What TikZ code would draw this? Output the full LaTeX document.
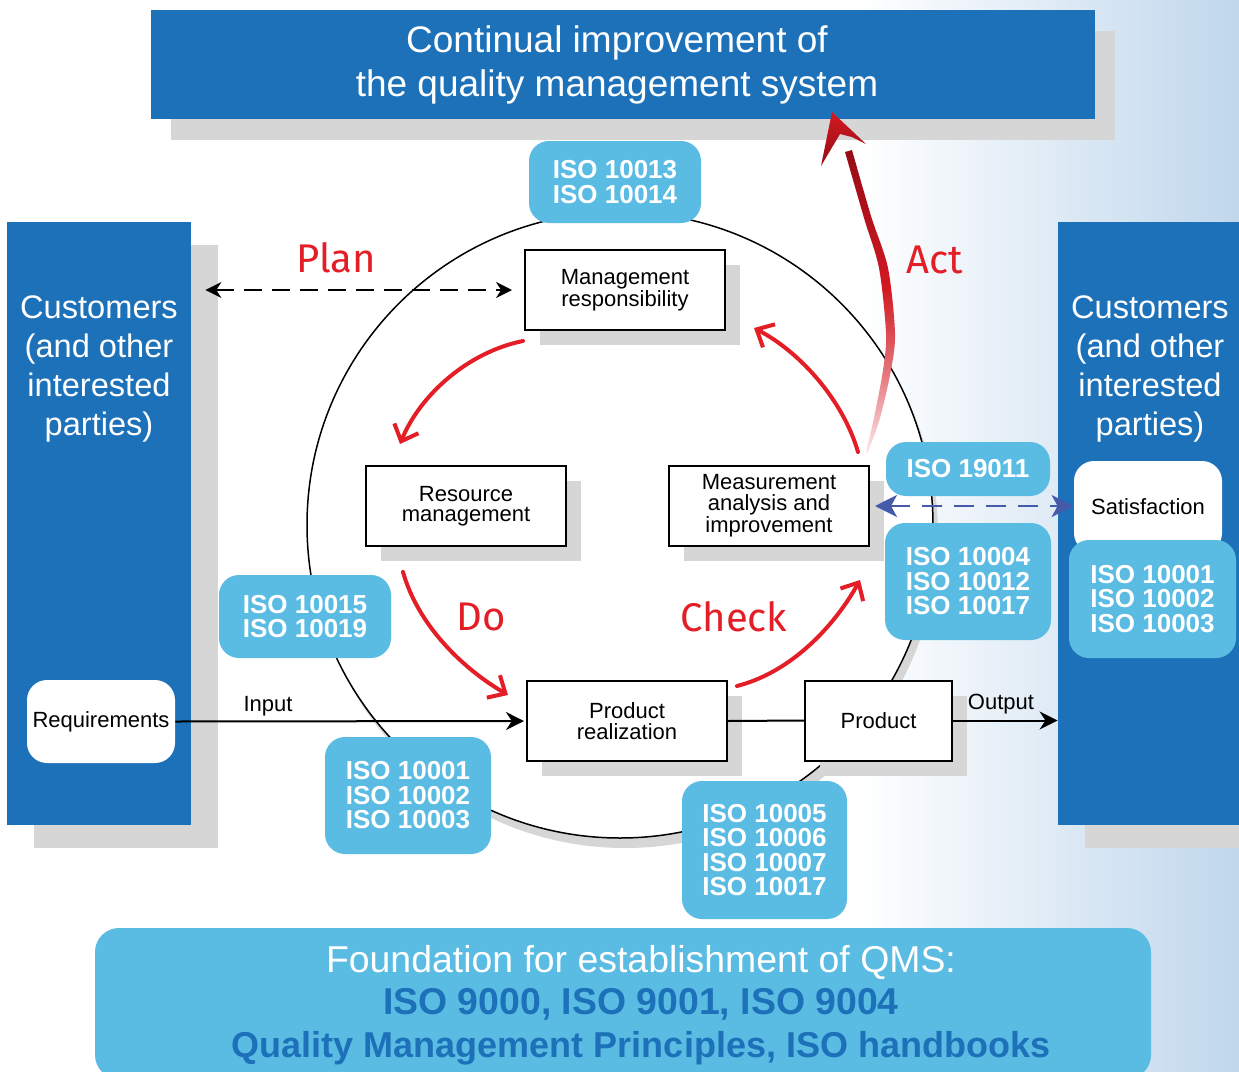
\documentclass[tikz,border=0pt]{standalone}
\usepackage{fontspec}
\setmainfont{Liberation Sans}
\newfontfamily\handfont{Fira Sans}
\usetikzlibrary{arrows.meta,shadows,calc}
\definecolor{dblue}{RGB}{28,113,185}
\definecolor{lblue}{RGB}{90,187,227}
\definecolor{pdred}{RGB}{228,30,38}
\definecolor{actdark}{RGB}{150,12,22}
\definecolor{actmid}{RGB}{210,25,35}
\definecolor{actpale}{RGB}{252,232,234}
\definecolor{dashblue}{RGB}{70,90,170}
\definecolor{shgray}{RGB}{214,214,214}
\definecolor{bgblue}{RGB}{192,215,236}
\pgfdeclareverticalshading{actshade}{100bp}{color(0bp)=(actpale); color(25bp)=(actpale); color(38bp)=(actmid!55!actpale); color(52bp)=(actmid); color(75bp)=(actdark); color(100bp)=(actdark)}
\tikzset{
  banner/.style={fill=dblue,inner sep=0pt,
    drop shadow={shadow xshift=10pt,shadow yshift=-10.5pt,fill=shgray,opacity=1}},
  bannertext/.style={text=white,align=center,inner sep=0pt,font=\fontsize{18.5}{22}\selectfont},
  panel/.style={fill=dblue,minimum height=301.5pt,inner sep=0pt,
    drop shadow={shadow xshift=13.5pt,shadow yshift=-11.5pt,fill=shgray,opacity=1}},
  paneltext/.style={text=white,align=center,font=\fontsize{16.3}{19.5}\selectfont,inner sep=0pt},
  proc/.style={draw=black,line width=1pt,fill=white,minimum width=100pt,minimum height=40pt,align=center,
    inner sep=0pt,font=\fontsize{11}{10.25}\selectfont,
    drop shadow={shadow xshift=7.5pt,shadow yshift=-7.5pt,fill=shgray,opacity=1}},
  iso/.style={fill=lblue,text=white,rounded corners=10pt,align=center,inner sep=0pt,
    font=\bfseries\fontsize{13}{12.25}\selectfont},
  whitebox/.style={fill=white,rounded corners=10pt,align=center,inner sep=0pt,font=\fontsize{11}{13}\selectfont},
  lbl/.style={font=\fontsize{11}{13}\selectfont,inner sep=0pt},
  pdca/.style={text=pdred,font=\handfont\fontsize{20}{24}\selectfont,inner sep=0pt},
  redarrow/.style={draw=pdred,line width=2pt,line cap=round,-{Straight Barb[length=7pt,width=13pt]}},
  blk/.style={line width=1pt},
}
\begin{document}
\begin{tikzpicture}[x=0.5pt,y=-0.5pt]
\useasboundingbox (0,0) rectangle (1239,1072);
\fill[white] (0,0) rectangle (1239,1072);
\shade[left color=white,right color=bgblue] (860,0) rectangle (1239,1072);

% banner
\node[banner,minimum width=472pt,minimum height=54.5pt] (title) at (623,64.5) {};
\node[bannertext] (titletext) at (617,65) {Continual improvement of\\the quality management system};

% side panels
\node[panel,minimum width=92pt] (panL) at (99,523.5) {};
\node[panel,minimum width=93.5pt] (panR) at (1151.5,523.5) {};
\node[paneltext] (custL) at (99,369) {Customers\\(and other\\interested\\parties)};
\node[paneltext] (custR) at (1150,369) {Customers\\(and other\\interested\\parties)};

% cycle circle
\node[circle,draw=black,line width=0.75pt,fill=white,minimum size=313pt,inner sep=0pt,
  drop shadow={shadow xshift=2.5pt,shadow yshift=-5pt,fill=shgray,opacity=1}] (cyc) at (620,525) {};

% process boxes
\node[proc] (mgmt) at (625,290) {Management\\responsibility};
\node[proc] (res) at (466,506) {Resource\\management};
\node[proc] (meas) at (769,506) {Measurement\\analysis and\\improvement};
\node[proc] (prod) at (627,721) {Product\\realization};
\node[proc,minimum width=73.5pt] (product) at (878.5,720.5) {Product};

% white boxes
\node[whitebox,minimum width=74pt,minimum height=41.5pt] (req) at (101,721.5) {Requirements};
\node[whitebox,minimum width=74pt,minimum height=46pt] (satis) at (1148,507) {Satisfaction};

% connectors
\draw[blk,dash pattern=on 9pt off 5pt,{Stealth[length=8pt,width=8pt]}-{Stealth[length=8pt,width=8pt]},
  shorten <=7pt,shorten >=6pt] (panL.east |- mgmt.west) -- (mgmt.west);
\draw[blk,-{Stealth[length=9pt,width=9pt]},shorten >=1pt] (req.east) -- (prod.west);
\draw[blk] (prod.east) -- (product.west);
\draw[blk,-{Stealth[length=9pt,width=9pt]}] (product.east) -- (product.east -| panR.west);
\draw[dashblue,line width=1.3pt,dash pattern=on 10pt off 6pt,
  {Stealth[length=11pt,width=11pt,inset=3pt]}-{Stealth[length=11pt,width=11pt,inset=3pt]},shorten <=2.5pt]
  (meas.east) -- (meas.east -| satis.west);
\node[lbl] (inlbl) at (268,706) {Input};
\node[lbl] (outlbl) at (1001,704) {Output};

% ISO boxes
\node[iso,minimum width=86pt,minimum height=41pt] (iso1) at (615,182) {ISO 10013\\ISO 10014};
\node[iso,minimum width=86pt,minimum height=41.5pt] (iso2) at (305,616.5) {ISO 10015\\ISO 10019};
\node[iso,minimum width=83pt,minimum height=58.5pt] (iso3) at (408,795.5) {ISO 10001\\ISO 10002\\ISO 10003};
\node[iso,minimum width=82.5pt,minimum height=69pt] (iso4) at (764.5,850) {ISO 10005\\ISO 10006\\ISO 10007\\ISO 10017};
\node[iso,minimum width=82pt,minimum height=27pt] (iso5) at (968,469) {ISO 19011};
\node[iso,minimum width=83pt,minimum height=58.5pt] (iso6) at (968,581.5) {ISO 10004\\ISO 10012\\ISO 10017};
\node[iso,minimum width=83.5pt,minimum height=59pt] (iso7) at (1152.5,599) {ISO 10001\\ISO 10002\\ISO 10003};

% PDCA red arrows
\coordinate (planS) at (523,341); \coordinate (planE) at (400,444);
\draw[redarrow] (planS) .. controls (468,352) and (420,395) .. (planE);
\coordinate (doS) at (403,572); \coordinate (doE) at (508,695);
\draw[redarrow] (doS) .. controls (418,625) and (462,668) .. (doE);
\coordinate (chkS) at (737,686); \coordinate (chkE) at (860,580);
\draw[redarrow] (chkS) .. controls (792,672) and (835,625) .. (chkE);
\coordinate (mmS) at (858,452); \coordinate (mmE) at (754,328);
\draw[redarrow] (mmS) .. controls (843,400) and (800,352) .. (mmE);

% Act arrow
\shade[shading=actshade]
  plot[smooth] coordinates {(845,152) (864,218) (879,268) (886,333) (883,370) (874,418) (866,452)}
  -- plot[smooth] coordinates {(868,452) (880,418) (891,370) (895,333) (888,268) (871,216) (852,150)}
  -- cycle;
\shade[top color=actmid,bottom color=actdark]
  (832,112) -- (866,144) -- (852,137) -- (840,134) -- (821,166) -- cycle;

\node[pdca] (plan) at (336,258) {Plan};
\node[pdca] (do) at (481,617) {Do};
\node[pdca] (check) at (734,617) {Check};
\node[pdca] (act) at (935,260) {Act};

% foundation
\node[fill=lblue,rounded corners=12pt,minimum width=528pt,minimum height=75.5pt,inner sep=0pt] (found) at (623,1003.5) {};
\node[align=center,inner sep=0pt,font=\fontsize{18.7}{21.25}\selectfont] (foundtext) at (641,1005)
  {\textcolor{white}{Foundation for establishment of QMS:}\\
   \textcolor{dblue}{\bfseries ISO 9000, ISO 9001, ISO 9004}\\
   \textcolor{dblue}{\bfseries\fontsize{18}{21.25}\selectfont Quality Management Principles, ISO handbooks}};
\end{tikzpicture}
\end{document}
